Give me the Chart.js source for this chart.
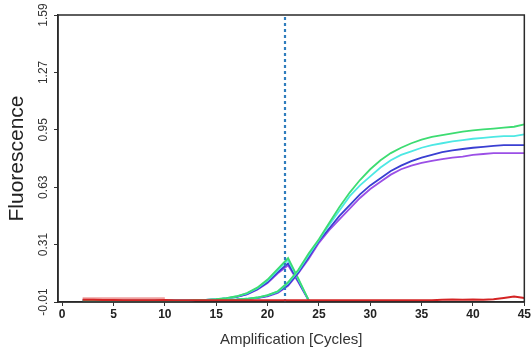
<!DOCTYPE html>
<html>
<head>
<meta charset="utf-8">
<script src="https://cdn.jsdelivr.net/npm/chart.js@4"></script>
<style>
  html, body { margin: 0; padding: 0; background: #fff; }
  canvas { display: block; }
</style>
</head>
<body>
<canvas id="myChart" width="532" height="356"></canvas>
<script>
// datos

const cycles = [2,3,4,5,6,7,8,9,10,11,12,13,14,15,16,17,18,19,20,21,22,23,24,25,26,27,28,29,30,31,32,33,34,35,36,37,38,39,40,41,42,43,44,45];

// curvas de amplificacion (ciclos 2..45)
const greenVals  = [-0.004,-0.004,-0.004,-0.004,-0.004,-0.004,-0.004,-0.004,-0.004,-0.004,-0.004,0,0,0, 0.002,0.004,0.008,0.015,0.028,0.05,0.1,0.17,0.26,0.34,0.43,0.52,0.6,0.67,0.73,0.78,0.82,0.85,0.875,0.895,0.91,0.92,0.93,0.94,0.947,0.952,0.957,0.962,0.967,0.98];
const cyanVals   = [0,0,0,0,0,0,0,0,0,0,0,0,0,0, 0.002,0.004,0.008,0.015,0.027,0.048,0.095,0.165,0.25,0.335,0.42,0.5,0.58,0.64,0.69,0.74,0.78,0.81,0.83,0.85,0.865,0.875,0.885,0.893,0.9,0.905,0.91,0.915,0.915,0.925];
const blueVals   = [0,0,0,0,0,0,0,0,0,0,0,0,0,0, 0.002,0.003,0.007,0.013,0.024,0.045,0.085,0.155,0.24,0.33,0.4,0.47,0.53,0.59,0.64,0.68,0.72,0.75,0.775,0.795,0.81,0.825,0.835,0.843,0.85,0.855,0.86,0.865,0.865,0.865];
const purpleVals = [-0.007,-0.007,-0.007,-0.007,-0.007,-0.007,-0.007,-0.007,-0.007,-0.007,-0.007,0,0,0, 0.002,0.003,0.006,0.012,0.022,0.04,0.08,0.15,0.23,0.32,0.39,0.45,0.51,0.57,0.62,0.66,0.7,0.73,0.75,0.765,0.777,0.787,0.795,0.8,0.81,0.815,0.82,0.82,0.82,0.82];
const redVals    = [0.002,0.002,0.001,0.001,0,0,0,0,0.001,0,0,0,0,0,0,0,0,0,0,0,0,0,0,0,0,0,0,0,0,0,0,0,0,0,0,0.002,0.004,0.002,0.004,0.003,0.005,0.012,0.02,0.012];

// picos (ciclos 13..24)
const bumpCycles = [13,14,15,16,17,18,19,20,21,22,23,24];
const greenBump  = [0,0.002,0.006,0.012,0.022,0.04,0.07,0.115,0.175,0.235,0.12,0];
const cyanBump   = [0,0.002,0.006,0.011,0.021,0.038,0.067,0.11,0.168,0.225,0.115,0];
const blueBump   = [0,0.002,0.005,0.01,0.019,0.034,0.061,0.1,0.156,0.205,0.105,0];
const purpleBump = [0,0.002,0.005,0.01,0.018,0.032,0.058,0.095,0.15,0.195,0.1,0];

// banda rosa del inicio
const pinkCycles = [2,3,4,5,6,7,8,9,10];
const pinkVals   = [0.008,0.008,0.008,0.008,0.008,0.008,0.008,0.008,0.008];

const thresholdCycle = 21.7;

const xTicks = [0,5,10,15,20,25,30,35,40,45];
const yTicks = [-0.01,0.31,0.63,0.95,1.27,1.59];

function pts(xs, ys) {
  return xs.map((x, i) => ({ x: x, y: ys[i] }));
}

const FONT = '"Liberation Sans Narrow", "Liberation Sans", Arial, sans-serif';

function serie(label, xs, ys, color, order, width, dash) {
  return {
    label: label,
    data: pts(xs, ys),
    borderColor: color,
    backgroundColor: color,
    borderWidth: width || 1.8,
    borderDash: dash || [],
    pointRadius: 0,
    tension: 0,
    order: order,
  };
}

const frame = {
  id: 'frame',
  afterDatasetsDraw(chart) {
    const a = chart.chartArea;
    const ctx = chart.ctx;
    ctx.save();
    ctx.strokeStyle = '#2a2a2a';
    ctx.lineWidth = 1.5;
    ctx.strokeRect(a.left, a.top, a.right - a.left, a.bottom - a.top);
    ctx.restore();
  }
};

const config = {
  type: 'line',
  data: {
    datasets: [
      serie('Rojo', cycles, redVals, '#d42424', 1, 2),
      serie('Rosa', pinkCycles, pinkVals, 'rgba(232,120,120,0.7)', 2, 3),
      serie('Umbral', [thresholdCycle, thresholdCycle], [-0.01, 1.59], '#2f7dbd', 3, 2.2, [3, 3]),
      serie('Verde', cycles, greenVals, '#3ddc72', 4),
      serie('Cian', cycles, cyanVals, '#4de8e4', 5),
      serie('Azul', cycles, blueVals, '#3a3fd2', 6),
      serie('Morado', cycles, purpleVals, '#9b4fe6', 7),
      serie('Pico verde', bumpCycles, greenBump, '#3ddc72', 8),
      serie('Pico cian', bumpCycles, cyanBump, '#4de8e4', 9),
      serie('Pico azul', bumpCycles, blueBump, '#3a3fd2', 10),
      serie('Pico morado', bumpCycles, purpleBump, '#9b4fe6', 11),
    ],
  },
  options: {
    responsive: false,
    animation: false,
    layout: { padding: { left: 0, right: 5, top: 15, bottom: 0 } },
    plugins: {
      legend: { display: false },
      tooltip: { enabled: false },
    },
    scales: {
      x: {
        type: 'linear',
        min: -0.4,
        max: 45,
        afterBuildTicks: s => { s.ticks = xTicks.map(v => ({ value: v })); },
        afterFit: s => { s.height = 54; },
        grid: { drawOnChartArea: false, drawTicks: true, tickLength: 4, color: '#333', lineWidth: 1 },
        border: { display: true, color: '#2a2a2a', width: 1.5 },
        ticks: {
          autoSkip: false,
          maxRotation: 0,
          padding: 1,
          color: '#222',
          font: { family: FONT, size: 12, weight: 'bold' },
        },
        title: {
          display: true,
          text: 'Amplification [Cycles]',
          color: '#333',
          font: { family: '"Liberation Sans", Arial, sans-serif', size: 15 },
          padding: { top: 0, bottom: 7 },
        },
      },
      y: {
        type: 'linear',
        min: -0.01,
        max: 1.59,
        afterBuildTicks: s => { s.ticks = yTicks.map(v => ({ value: v })); },
        afterFit: s => { s.width = 58; },
        grid: { drawOnChartArea: false, drawTicks: true, tickLength: 4, color: '#333', lineWidth: 1 },
        border: { display: true, color: '#2a2a2a', width: 1.5 },
        ticks: {
          minRotation: 90,
          maxRotation: 90,
          crossAlign: 'center',
          padding: -3,
          color: '#333',
          font: { family: FONT, size: 12 },
          callback: v => v.toFixed(2),
        },
        title: {
          display: true,
          text: 'Fluorescence',
          color: '#222',
          font: { family: '"Liberation Sans", Arial, sans-serif', size: 21 },
          padding: { top: 5, bottom: 0 },
        },
      },
    },
  },
  plugins: [frame],
};

const myChart = new Chart(document.getElementById('myChart'), config);
</script>
</body>
</html>
